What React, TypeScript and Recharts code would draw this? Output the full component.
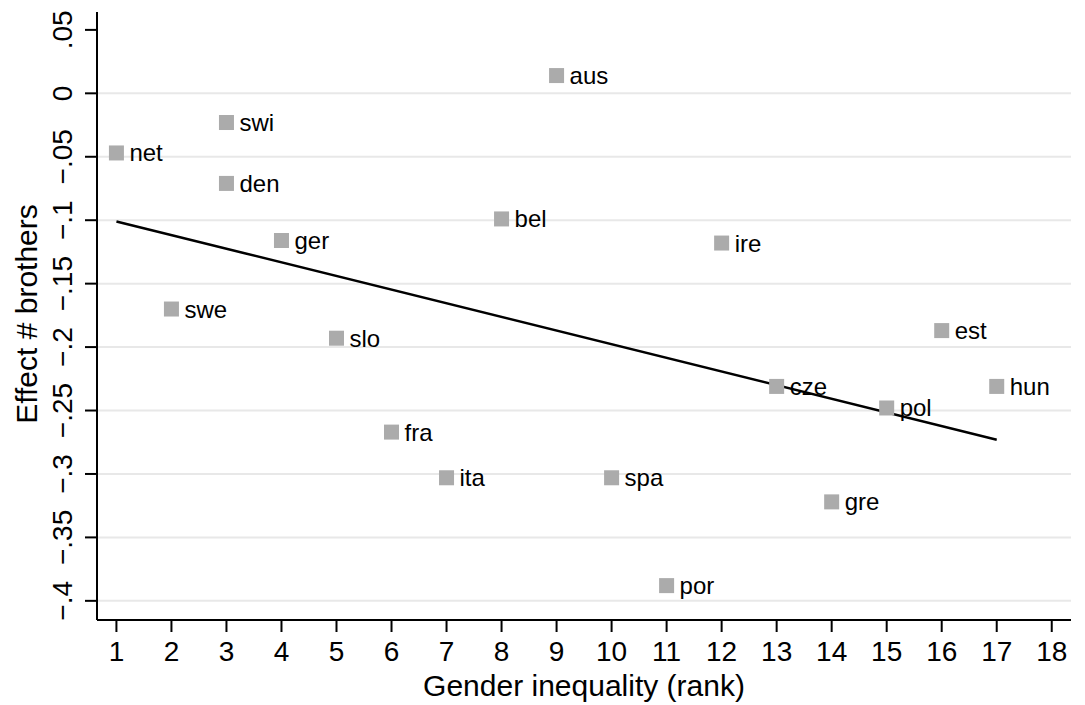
import React from "react";
import {
  ScatterChart,
  Scatter,
  XAxis,
  YAxis,
  ReferenceLine,
} from "recharts";

// country codes, gender inequality rank and estimated effect of # brothers
const countries = ["net", "swe", "swi", "den", "ger", "slo", "fra", "ita", "bel", "aus", "spa", "por", "ire", "cze", "gre", "pol", "est", "hun"];
const ranks = [1, 2, 3, 3, 4, 5, 6, 7, 8, 9, 10, 11, 12, 13, 14, 15, 16, 17];
const effects = [-0.047, -0.17, -0.023, -0.071, -0.116, -0.193, -0.267, -0.303, -0.099, 0.014, -0.303, -0.388, -0.118, -0.231, -0.322, -0.248, -0.187, -0.231];

// fitted line end points
const fitX = [1, 17];
const fitY = [-0.101, -0.273];

const xTicks = [1, 2, 3, 4, 5, 6, 7, 8, 9, 10, 11, 12, 13, 14, 15, 16, 17, 18];
const yTicks = [0.05, 0, -0.05, -0.1, -0.15, -0.2, -0.25, -0.3, -0.35, -0.4];
const gridValues = [0, -0.05, -0.1, -0.15, -0.2, -0.25, -0.3, -0.35, -0.4];

const points = countries.map((name, i) => ({ name, x: ranks[i], y: effects[i] }));

const FONT = "'Liberation Sans', Arial, Helvetica, sans-serif";
const MARKER = "#ababab";

function fmtY(v: number) {
  if (Math.abs(v) < 1e-9) return "0";
  const s = Math.abs(v).toString().replace(/^0/, "");
  return v < 0 ? "\u2212" + s : s;
}

function XTick(props: any) {
  const { x, y, payload } = props;
  return (
    <text x={x} y={y + 27} textAnchor="middle" fontSize={28} fontFamily={FONT} fill="#000">
      {payload.value}
    </text>
  );
}

function YTick(props: any) {
  const { x, y, payload } = props;
  const bx = x - 11;
  return (
    <text
      x={bx}
      y={y}
      transform={`rotate(-90 ${bx} ${y})`}
      textAnchor="middle"
      fontSize={28}
      fontFamily={FONT}
      fill="#000"
    >
      {fmtY(payload.value)}
    </text>
  );
}

function YTitle(props: any) {
  const { viewBox } = props;
  const bx = 37;
  const cy = viewBox.y + viewBox.height / 2 - 2;
  return (
    <text
      x={bx}
      y={cy}
      transform={`rotate(-90 ${bx} ${cy})`}
      textAnchor="middle"
      fontSize={30}
      fontFamily={FONT}
      fill="#000"
    >
      Effect # brothers
    </text>
  );
}

function Marker(props: any) {
  const { cx, cy, payload } = props;
  return (
    <g>
      <rect x={cx - 7.5} y={cy - 7.5} width={15} height={15} fill={MARKER} />
      <text x={cx + 13} y={cy + 8.5} fontSize={24} fontFamily={FONT} fill="#000">
        {payload.name}
      </text>
    </g>
  );
}

export default function App() {
  return (
    <div style={{ position: "absolute", left: 0, top: 0, background: "#fff" }}>
      <ScatterChart
        width={1085}
        height={705}
        margin={{ top: 12, right: 14, bottom: 0, left: 0 }}
      >
        <XAxis
          type="number"
          dataKey="x"
          domain={[0.647, 18.35]}
          allowDataOverflow
          ticks={xTicks}
          interval={0}
          height={85}
          tickSize={12}
          tick={<XTick />}
          axisLine={{ stroke: "#000", strokeWidth: 2 }}
          tickLine={{ stroke: "#000", strokeWidth: 2 }}
          label={{
            value: "Gender inequality (rank)",
            position: "insideBottom",
            offset: 9,
            fontSize: 30,
            fontFamily: FONT,
            fill: "#000",
          }}
        />
        <YAxis
          type="number"
          dataKey="y"
          domain={[-0.4151, 0.0641]}
          allowDataOverflow
          ticks={yTicks}
          interval={0}
          width={97}
          tickSize={12}
          tick={<YTick />}
          axisLine={{ stroke: "#000", strokeWidth: 2 }}
          tickLine={{ stroke: "#000", strokeWidth: 2 }}
          label={<YTitle />}
        />
        {gridValues.map((v) => (
          <ReferenceLine key={v} y={v} stroke="#e8e8e8" strokeWidth={2} />
        ))}
        <ReferenceLine
          segment={[
            { x: fitX[0], y: fitY[0] },
            { x: fitX[1], y: fitY[1] },
          ]}
          stroke="#000"
          strokeWidth={2.5}
        />
        <Scatter data={points} shape={<Marker />} isAnimationActive={false} />
      </ScatterChart>
    </div>
  );
}
